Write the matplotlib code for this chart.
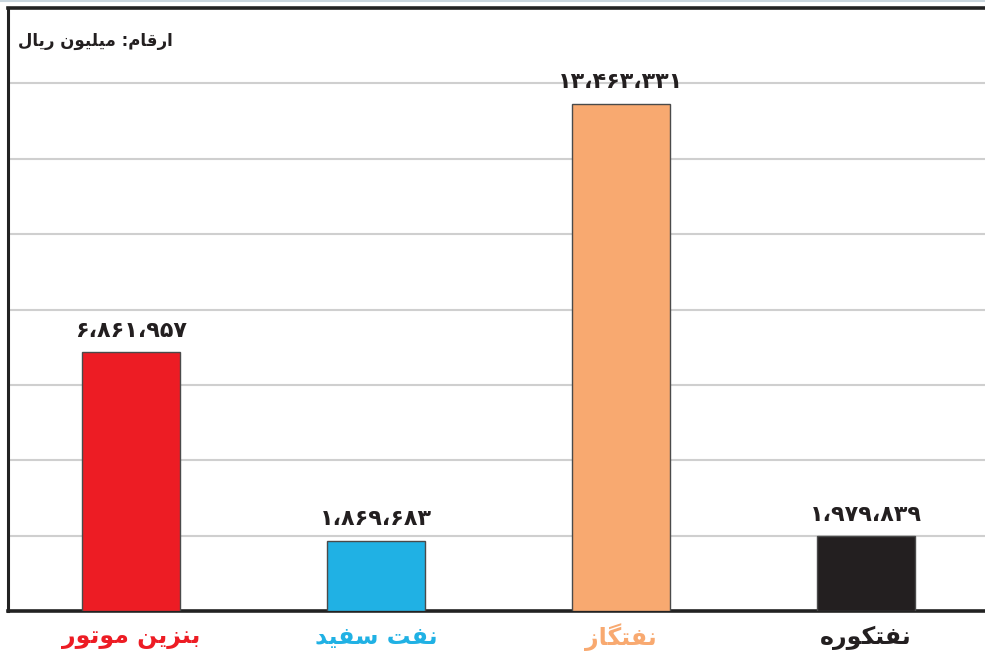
import matplotlib
matplotlib.use("Agg")
import matplotlib.pyplot as plt
from matplotlib.lines import Line2D

# داده‌ها
categories = ["بنزین موتور", "نفت سفید", "نفتگاز", "نفتکوره"]
values = [6861957, 1869683, 13463331, 1979839]
bar_colors = ["#ED1C24", "#20B1E4", "#F8A970", "#231F20"]
unit_note = "ارقام: میلیون ریال"

# شکل‌دهی ساده حروف فارسی (matplotlib خودش اتصال و راست‌به‌چپ ندارد)
# isolated, final, initial, medial
FORMS = {
    "ا": ("\uFE8D", "\uFE8E", None, None),
    "ب": ("\uFE8F", "\uFE90", "\uFE91", "\uFE92"),
    "ت": ("\uFE95", "\uFE96", "\uFE97", "\uFE98"),
    "د": ("\uFEA9", "\uFEAA", None, None),
    "ر": ("\uFEAD", "\uFEAE", None, None),
    "ز": ("\uFEAF", "\uFEB0", None, None),
    "س": ("\uFEB1", "\uFEB2", "\uFEB3", "\uFEB4"),
    "ف": ("\uFED1", "\uFED2", "\uFED3", "\uFED4"),
    "ق": ("\uFED5", "\uFED6", "\uFED7", "\uFED8"),
    "ل": ("\uFEDD", "\uFEDE", "\uFEDF", "\uFEE0"),
    "م": ("\uFEE1", "\uFEE2", "\uFEE3", "\uFEE4"),
    "ن": ("\uFEE5", "\uFEE6", "\uFEE7", "\uFEE8"),
    "ه": ("\uFEE9", "\uFEEA", "\uFEEB", "\uFEEC"),
    "و": ("\uFEED", "\uFEEE", None, None),
    "ی": ("\uFBFC", "\uFBFD", "\uFBFE", "\uFBFF"),
    "ک": ("\uFB8E", "\uFB8F", "\uFB90", "\uFB91"),
    "گ": ("\uFB92", "\uFB93", "\uFB94", "\uFB95"),
}


def joins_left(ch):
    return ch in FORMS and FORMS[ch][2] is not None


def shape(text):
    out = []
    for i, ch in enumerate(text):
        if ch not in FORMS:
            out.append(ch)
            continue
        prev = text[i - 1] if i > 0 else ""
        nxt = text[i + 1] if i + 1 < len(text) else ""
        a = joins_left(prev)
        b = joins_left(ch) and nxt in FORMS
        iso, fin, ini, med = FORMS[ch]
        if a and b:
            out.append(med)
        elif a:
            out.append(fin)
        elif b:
            out.append(ini)
        else:
            out.append(iso)
    return "".join(out)[::-1]


FA_DIGITS = str.maketrans("0123456789,", "۰۱۲۳۴۵۶۷۸۹،")


def fa_num(v):
    return f"{v:,}".translate(FA_DIGITS)


fig = plt.figure(figsize=(9.85, 6.59), dpi=100)
ax = fig.add_axes([8 / 985, 48 / 659, 977 / 985, 603 / 659])

x = list(range(len(categories)))
bars = ax.bar(x, values, width=0.4, color=bar_colors, edgecolor="#4a4a4a",
              linewidth=1, zorder=3)

ax.set_xlim(-0.502, 3.486)
ax.set_ylim(0, 16000000)
ax.set_yticks(range(0, 16000001, 2000000))
ax.yaxis.grid(True, color="#cfcfcf", linewidth=1.5, zorder=0)
ax.tick_params(left=False, bottom=False, labelleft=False, labelbottom=False)

for s in ["left", "top", "bottom"]:
    ax.spines[s].set_color("#222222")
ax.spines["left"].set_linewidth(2.2)
ax.spines["top"].set_linewidth(2.6)
ax.spines["bottom"].set_linewidth(2.6)
ax.spines["right"].set_visible(False)

for rect, v in zip(bars, values):
    ax.annotate(fa_num(v), (rect.get_x() + rect.get_width() / 2, v),
                xytext=(0, 8), textcoords="offset points", ha="center",
                va="bottom", fontsize=16, fontweight="bold", color="#231F20",
                family=["DejaVu Sans"])

for xi, name, c in zip(x, categories, bar_colors):
    ax.annotate(shape(name), (xi, 0), xytext=(0, -19), textcoords="offset points",
                ha="center", va="center", fontsize=17, fontweight="bold", color=c,
                family=["DejaVu Sans"], annotation_clip=False)

ax.text(10 / 977, (611 - 41) / 603, shape(unit_note), transform=ax.transAxes,
        ha="left", va="center", fontsize=12, fontweight="bold", color="#231F20",
        family=["DejaVu Sans"])

fig.add_artist(Line2D([0, 1], [1 - 1 / 659, 1 - 1 / 659], color="#c9d6de",
                      linewidth=1.5, transform=fig.transFigure))

fig.savefig("out.png", dpi=100)
